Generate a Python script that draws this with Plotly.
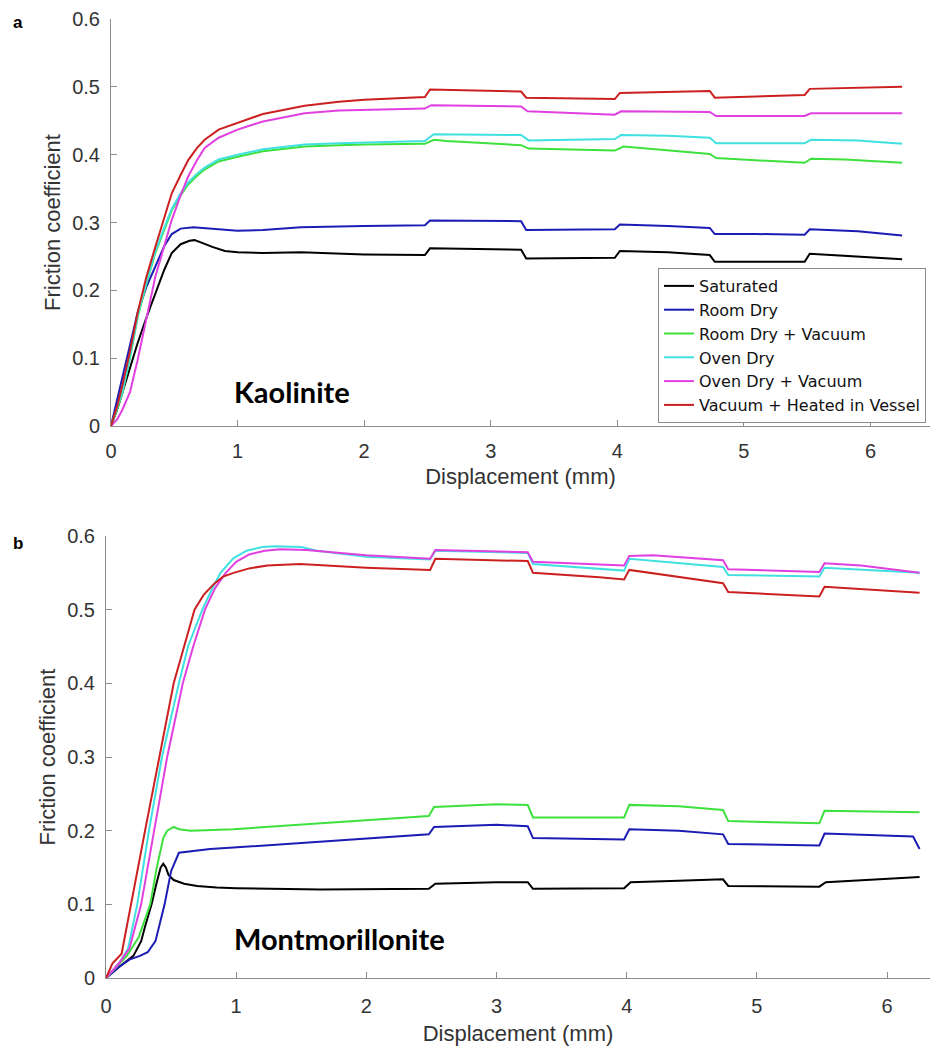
import plotly.graph_objects as go

# ---------------- Data: Kaolinite (panel a) ----------------
k_sat_x = [0, 0.05, 0.09, 0.15, 0.21, 0.28, 0.35, 0.42, 0.48, 0.55, 0.62, 0.66, 0.72, 0.8, 0.9, 1.0, 1.2, 1.5, 2.0, 2.48, 2.52, 3.0, 3.24, 3.28, 3.6, 3.98, 4.02, 4.4, 4.73, 4.77, 5.1, 5.48, 5.52, 5.9, 6.25]
k_sat_y = [0, 0.025, 0.049, 0.085, 0.122, 0.16, 0.196, 0.23, 0.255, 0.268, 0.273, 0.274, 0.27, 0.264, 0.258, 0.256, 0.255, 0.256, 0.253, 0.252, 0.262, 0.261, 0.26, 0.247, 0.247, 0.248, 0.258, 0.256, 0.252, 0.242, 0.242, 0.242, 0.254, 0.25, 0.246]

k_room_x = [0, 0.05, 0.09, 0.15, 0.21, 0.28, 0.35, 0.42, 0.48, 0.55, 0.65, 0.8, 1.0, 1.2, 1.5, 2.0, 2.48, 2.52, 3.0, 3.24, 3.28, 3.6, 3.98, 4.02, 4.4, 4.73, 4.77, 5.1, 5.48, 5.52, 5.9, 6.25]
k_room_y = [0, 0.04, 0.072, 0.12, 0.167, 0.205, 0.235, 0.265, 0.283, 0.291, 0.293, 0.291, 0.288, 0.289, 0.293, 0.295, 0.296, 0.303, 0.303, 0.302, 0.289, 0.289, 0.29, 0.297, 0.295, 0.292, 0.283, 0.283, 0.282, 0.29, 0.287, 0.281]

k_roomvac_x = [0, 0.05, 0.09, 0.15, 0.21, 0.28, 0.35, 0.42, 0.48, 0.55, 0.61, 0.68, 0.74, 0.85, 1.0, 1.2, 1.53, 1.8, 2.0, 2.48, 2.55, 2.65, 3.24, 3.3, 3.86, 3.98, 4.05, 4.73, 4.78, 5.48, 5.53, 5.8, 6.25]
k_roomvac_y = [0, 0.025, 0.049, 0.1, 0.16, 0.21, 0.255, 0.29, 0.318, 0.34, 0.356, 0.369, 0.378, 0.39, 0.397, 0.405, 0.412, 0.414, 0.415, 0.416, 0.422, 0.42, 0.414, 0.409, 0.407, 0.406, 0.412, 0.401, 0.395, 0.388, 0.394, 0.393, 0.388]

k_oven_x = [0, 0.05, 0.09, 0.15, 0.21, 0.28, 0.35, 0.42, 0.48, 0.55, 0.61, 0.68, 0.74, 0.85, 1.0, 1.2, 1.53, 1.8, 2.0, 2.48, 2.55, 3.24, 3.3, 3.86, 3.98, 4.03, 4.4, 4.73, 4.78, 5.48, 5.53, 5.9, 6.25]
k_oven_y = [0, 0.026, 0.05, 0.102, 0.162, 0.212, 0.257, 0.292, 0.32, 0.343, 0.359, 0.372, 0.381, 0.393, 0.4, 0.408, 0.415, 0.417, 0.418, 0.42, 0.43, 0.429, 0.421, 0.423, 0.423, 0.429, 0.428, 0.425, 0.417, 0.417, 0.422, 0.421, 0.416]

k_ovenvac_x = [0, 0.05, 0.09, 0.15, 0.21, 0.28, 0.35, 0.42, 0.48, 0.55, 0.61, 0.68, 0.74, 0.85, 1.0, 1.2, 1.53, 1.8, 2.0, 2.48, 2.53, 3.24, 3.29, 3.98, 4.03, 4.73, 4.78, 5.48, 5.53, 6.25]
k_ovenvac_y = [0, 0.01, 0.024, 0.05, 0.097, 0.16, 0.22, 0.265, 0.304, 0.34, 0.368, 0.392, 0.41, 0.425, 0.437, 0.449, 0.461, 0.465, 0.466, 0.468, 0.473, 0.471, 0.464, 0.459, 0.464, 0.463, 0.457, 0.457, 0.461, 0.461]

k_heated_x = [0, 0.05, 0.09, 0.15, 0.21, 0.28, 0.35, 0.42, 0.48, 0.55, 0.61, 0.68, 0.74, 0.85, 1.0, 1.2, 1.53, 1.8, 2.0, 2.3, 2.48, 2.52, 3.24, 3.28, 3.86, 3.98, 4.02, 4.73, 4.77, 5.48, 5.52, 6.25]
k_heated_y = [0, 0.03, 0.06, 0.11, 0.167, 0.22, 0.264, 0.305, 0.343, 0.37, 0.392, 0.41, 0.422, 0.437, 0.447, 0.46, 0.472, 0.478, 0.481, 0.484, 0.485, 0.496, 0.493, 0.484, 0.482, 0.482, 0.491, 0.494, 0.484, 0.488, 0.497, 0.5]

# ---------------- Data: Montmorillonite (panel b) ----------------
m_sat_x = [0, 0.1, 0.21, 0.27, 0.3, 0.35, 0.39, 0.42, 0.44, 0.46, 0.48, 0.52, 0.6, 0.7, 0.85, 1.0, 1.65, 2.0, 2.48, 2.53, 3.0, 3.24, 3.28, 3.98, 4.03, 4.4, 4.74, 4.78, 5.48, 5.53, 6.25]
m_sat_y = [0, 0.015, 0.03, 0.05, 0.07, 0.1, 0.13, 0.15, 0.155, 0.15, 0.14, 0.133, 0.128, 0.125, 0.123, 0.122, 0.12, 0.12, 0.121, 0.128, 0.13, 0.13, 0.121, 0.122, 0.13, 0.132, 0.134, 0.125, 0.124, 0.13, 0.137]

m_room_x = [0, 0.1, 0.18, 0.26, 0.32, 0.38, 0.45, 0.5, 0.56, 0.65, 0.8, 0.98, 1.65, 2.0, 2.48, 2.52, 3.0, 3.24, 3.28, 3.98, 4.02, 4.4, 4.74, 4.78, 5.48, 5.52, 6.2, 6.25]
m_room_y = [0, 0.015, 0.025, 0.03, 0.035, 0.05, 0.1, 0.145, 0.17, 0.172, 0.175, 0.177, 0.185, 0.19, 0.195, 0.205, 0.208, 0.206, 0.19, 0.188, 0.202, 0.2, 0.195, 0.182, 0.18, 0.196, 0.192, 0.175]

m_roomvac_x = [0, 0.1, 0.16, 0.25, 0.3, 0.34, 0.39, 0.44, 0.47, 0.52, 0.56, 0.65, 0.98, 1.65, 2.0, 2.48, 2.52, 3.0, 3.24, 3.28, 3.98, 4.02, 4.4, 4.74, 4.78, 5.48, 5.52, 6.25]
m_roomvac_y = [0, 0.018, 0.03, 0.055, 0.08, 0.1, 0.15, 0.19, 0.2, 0.205, 0.202, 0.2, 0.202, 0.21, 0.215, 0.22, 0.232, 0.236, 0.235, 0.218, 0.218, 0.235, 0.233, 0.228, 0.213, 0.21, 0.227, 0.225]

m_oven_x = [0, 0.1, 0.17, 0.24, 0.33, 0.43, 0.56, 0.63, 0.74, 0.82, 0.88, 0.98, 1.08, 1.2, 1.3, 1.5, 1.62, 2.0, 2.49, 2.53, 3.24, 3.28, 3.98, 4.02, 4.74, 4.78, 5.48, 5.52, 6.25]
m_oven_y = [0, 0.02, 0.04, 0.1, 0.2, 0.3, 0.4, 0.45, 0.5, 0.53, 0.55, 0.57, 0.58, 0.585, 0.586, 0.585, 0.58, 0.572, 0.568, 0.58, 0.577, 0.562, 0.553, 0.569, 0.558, 0.547, 0.545, 0.557, 0.55]

m_ovenvac_x = [0, 0.1, 0.18, 0.27, 0.37, 0.47, 0.59, 0.67, 0.76, 0.84, 0.92, 1.0, 1.1, 1.22, 1.34, 1.54, 1.8, 2.0, 2.49, 2.53, 3.24, 3.28, 3.98, 4.02, 4.2, 4.74, 4.78, 5.48, 5.52, 5.8, 6.25]
m_ovenvac_y = [0, 0.02, 0.04, 0.1, 0.2, 0.3, 0.4, 0.45, 0.5, 0.53, 0.55, 0.565, 0.575, 0.58, 0.582, 0.581, 0.577, 0.574, 0.569, 0.581, 0.578, 0.565, 0.56, 0.573, 0.574, 0.567, 0.555, 0.551, 0.563, 0.56, 0.55]

m_heated_x = [0, 0.05, 0.12, 0.19, 0.3, 0.41, 0.52, 0.6, 0.68, 0.75, 0.83, 0.9, 0.98, 1.1, 1.24, 1.49, 2.0, 2.49, 2.53, 3.24, 3.28, 3.79, 3.98, 4.02, 4.74, 4.78, 5.48, 5.52, 6.25]
m_heated_y = [0, 0.02, 0.033, 0.1, 0.2, 0.3, 0.4, 0.45, 0.5, 0.52, 0.535, 0.545, 0.55, 0.556, 0.56, 0.562, 0.557, 0.554, 0.569, 0.566, 0.55, 0.544, 0.541, 0.554, 0.536, 0.524, 0.518, 0.531, 0.523]

series_names = ["Saturated", "Room Dry", "Room Dry + Vacuum", "Oven Dry",
                "Oven Dry + Vacuum", "Vacuum + Heated in Vessel"]
series_colors = ["#000000", "#1c1cb4", "#3ee03e", "#40e0e0", "#e040e0", "#cc2020"]

x_ticks = [0, 1, 2, 3, 4, 5, 6]
y_ticks = [0, 0.1, 0.2, 0.3, 0.4, 0.5, 0.6]

kaol = [(k_sat_x, k_sat_y), (k_room_x, k_room_y), (k_roomvac_x, k_roomvac_y),
        (k_oven_x, k_oven_y), (k_ovenvac_x, k_ovenvac_y), (k_heated_x, k_heated_y)]
mont = [(m_sat_x, m_sat_y), (m_room_x, m_room_y), (m_roomvac_x, m_roomvac_y),
        (m_oven_x, m_oven_y), (m_ovenvac_x, m_ovenvac_y), (m_heated_x, m_heated_y)]

W, H = 930, 1054
fig = go.Figure()

for i, (xs, ys) in enumerate(kaol):
    fig.add_trace(go.Scatter(x=xs, y=ys, mode="lines", name=series_names[i],
                             line=dict(color=series_colors[i], width=2),
                             xaxis="x", yaxis="y", showlegend=True))
for i, (xs, ys) in enumerate(mont):
    fig.add_trace(go.Scatter(x=xs, y=ys, mode="lines", name=series_names[i],
                             line=dict(color=series_colors[i], width=2),
                             xaxis="x2", yaxis="y2", showlegend=False))

axis_col = "#8c8c8c"
tick_font = dict(family="Liberation Sans, Arial, sans-serif", size=20, color="#333333")
title_font = dict(family="Liberation Sans, Arial, sans-serif", size=22, color="#333333")

def xax(domain, rng, anchor, lab_off, title_off):
    return dict(domain=domain, range=rng, tickvals=x_ticks, ticks="inside", ticklen=6,
                tickcolor=axis_col, showline=True, linecolor=axis_col, linewidth=1,
                showgrid=False, zeroline=False, tickfont=tick_font, anchor=anchor,
                automargin=False,
                title=dict(text="Displacement (mm)", font=title_font, standoff=title_off),
                ticklabelstandoff=lab_off)

def yax(domain, anchor):
    return dict(domain=domain, range=[0, 0.6], tickvals=y_ticks, ticks="inside", ticklen=6,
                tickcolor=axis_col, showline=True, linecolor=axis_col, linewidth=1,
                showgrid=False, zeroline=False, tickfont=tick_font, anchor=anchor,
                automargin=False,
                title=dict(text="Friction coefficient", font=title_font, standoff=5),
                ticklabelstandoff=6)

top_x_dom = [111 / W, 1.0]
top_y_dom = [1 - 426 / H, 1 - 19 / H]
bot_x_dom = [106 / W, 1.0]
bot_y_dom = [1 - 978 / H, 1 - 536 / H]

fig.update_layout(
    width=W, height=H,
    margin=dict(l=0, r=0, t=0, b=0, pad=0, autoexpand=False),
    paper_bgcolor="white", plot_bgcolor="white",
    xaxis=xax(top_x_dom, [0, 6.47], "y", 7, 7),
    yaxis=yax(top_y_dom, "x"),
    xaxis2=xax(bot_x_dom, [0, 6.33], "y2", 10, 9),
    yaxis2=yax(bot_y_dom, "x2"),
    legend=dict(x=658 / W, y=1 - 268 / H, xanchor="left", yanchor="top",
                bgcolor="white", bordercolor="#8c8c8c", borderwidth=1,
                font=dict(family="DejaVu Sans, sans-serif", size=16, color="#111111"),
                tracegroupgap=0),
    showlegend=True,
)

ann_font_label = dict(family="Liberation Sans, Arial, sans-serif", size=17, color="#000000")
name_font = dict(family="Lato, Liberation Sans, sans-serif", size=29, color="#000000")
fig.add_annotation(x=11 / W, y=1 - 22 / H, xref="paper", yref="paper", text="<b>a</b>",
                   showarrow=False, xanchor="left", yanchor="middle", font=ann_font_label)
fig.add_annotation(x=11 / W, y=1 - 543 / H, xref="paper", yref="paper", text="<b>b</b>",
                   showarrow=False, xanchor="left", yanchor="middle", font=ann_font_label)
fig.add_annotation(x=232 / W, y=1 - 392 / H, xref="paper", yref="paper", text="<b>Kaolinite</b>",
                   showarrow=False, xanchor="left", yanchor="middle", font=name_font)
fig.add_annotation(x=232 / W, y=1 - 938 / H, xref="paper", yref="paper", text="<b>Montmorillonite</b>",
                   showarrow=False, xanchor="left", yanchor="middle", font=name_font)

fig.write_html("out.html")
